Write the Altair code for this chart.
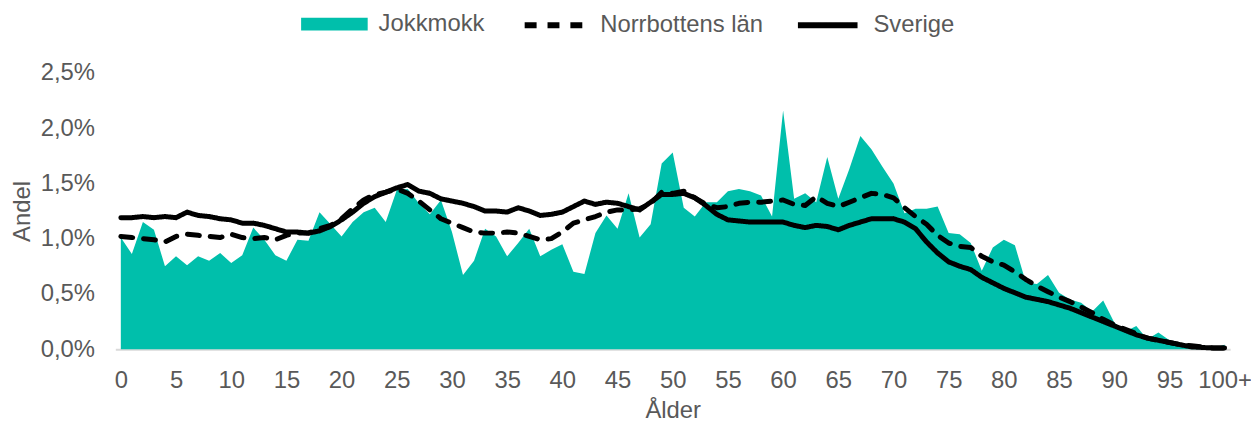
import altair as alt
import pandas as pd

ages = list(range(101))
x_tick_values = list(range(0, 101, 5))
y_tick_values = [0.0, 0.005, 0.01, 0.015, 0.02, 0.025]

# Andel (%) per ålder 0..100+
jokkmokk = [1.01, 0.86, 1.15, 1.08, 0.75, 0.84, 0.76, 0.84, 0.80, 0.87,
            0.78, 0.85, 1.10, 0.99, 0.85, 0.80, 0.99, 0.98, 1.24, 1.13,
            1.02, 1.15, 1.24, 1.28, 1.15, 1.44, 1.45, 1.32, 1.22, 1.35,
            1.06, 0.67, 0.80, 1.09, 1.02, 0.84, 0.96, 1.09, 0.84, 0.90,
            0.95, 0.70, 0.68, 1.05, 1.21, 1.09, 1.41, 1.01, 1.13, 1.68,
            1.78, 1.28, 1.20, 1.33, 1.33, 1.43, 1.45, 1.43, 1.39, 1.20,
            2.16, 1.36, 1.41, 1.33, 1.74, 1.36, 1.63, 1.93, 1.81, 1.65,
            1.50, 1.23, 1.27, 1.27, 1.29, 1.05, 1.04, 0.96, 0.71, 0.92,
            0.99, 0.94, 0.60, 0.59, 0.67, 0.51, 0.45, 0.42, 0.34, 0.44,
            0.24, 0.16, 0.21, 0.09, 0.15, 0.08, 0.04, 0.02, 0.01, 0.01,
            0.04]

norrbotten = [1.02, 1.01, 1.00, 0.99, 0.97, 1.02, 1.04, 1.03, 1.02, 1.01,
              1.04, 1.01, 1.00, 1.01, 0.99, 1.03, 1.05, 1.05, 1.09, 1.12,
              1.18, 1.27, 1.35, 1.40, 1.42, 1.45, 1.41, 1.34, 1.26, 1.18,
              1.14, 1.10, 1.06, 1.05, 1.05, 1.06, 1.05, 1.02, 0.99, 1.00,
              1.06, 1.14, 1.17, 1.20, 1.24, 1.26, 1.26, 1.27, 1.32, 1.42,
              1.41, 1.43, 1.37, 1.31, 1.28, 1.29, 1.32, 1.33, 1.33, 1.34,
              1.35, 1.31, 1.30, 1.38, 1.32, 1.29, 1.33, 1.37, 1.41, 1.40,
              1.37, 1.28, 1.20, 1.13, 1.03, 0.96, 0.93, 0.92, 0.84, 0.79,
              0.76, 0.70, 0.63, 0.57, 0.52, 0.47, 0.43, 0.38, 0.33, 0.27,
              0.22, 0.18, 0.14, 0.10, 0.08, 0.06, 0.04, 0.03, 0.02, 0.01,
              0.01]

sverige = [1.19, 1.19, 1.20, 1.19, 1.20, 1.19, 1.24, 1.21, 1.20, 1.18,
           1.17, 1.14, 1.14, 1.12, 1.09, 1.06, 1.06, 1.05, 1.07, 1.11,
           1.17, 1.24, 1.32, 1.38, 1.42, 1.46, 1.49, 1.43, 1.41, 1.36,
           1.34, 1.32, 1.29, 1.25, 1.25, 1.24, 1.28, 1.25, 1.21, 1.22,
           1.24, 1.29, 1.34, 1.31, 1.33, 1.32, 1.29, 1.26, 1.33, 1.40,
           1.40, 1.41, 1.37, 1.30, 1.22, 1.17, 1.16, 1.15, 1.15, 1.15,
           1.15, 1.12, 1.10, 1.12, 1.11, 1.08, 1.12, 1.15, 1.18, 1.18,
           1.18, 1.15, 1.09, 0.97, 0.87, 0.79, 0.75, 0.72, 0.65, 0.60,
           0.55, 0.51, 0.47, 0.45, 0.43, 0.40, 0.37, 0.33, 0.29, 0.25,
           0.21, 0.17, 0.13, 0.10, 0.08, 0.06, 0.04, 0.02, 0.015, 0.01,
           0.01]

area_df = pd.DataFrame({"alder": ages, "andel": [v / 100 for v in jokkmokk],
                        "omrade": "Jokkmokk"})
line_df = pd.concat([
    pd.DataFrame({"alder": ages, "andel": [v / 100 for v in norrbotten],
                  "serie": "Norrbottens län"}),
    pd.DataFrame({"alder": ages, "andel": [v / 100 for v in sverige],
                  "serie": "Sverige"}),
])

TEAL = "#00BFAB"
GREY = "#595959"
FONT = "Liberation Sans"

x_enc = alt.X("alder:Q",
              scale=alt.Scale(domain=[-0.5, 100.5], nice=False, zero=False),
              axis=alt.Axis(title="Ålder", values=x_tick_values,
                            labelExpr="datum.value == 100 ? '100+' : datum.label",
                            grid=False, ticks=False, tickSize=0,
                            domainColor="#D9D9D9", domainWidth=2,
                            labelPadding=20, titlePadding=6,
                            labelFlush=False, labelOverlap=False))
y_enc = alt.Y("andel:Q",
              scale=alt.Scale(domain=[0, 0.025], nice=False),
              axis=alt.Axis(title="Andel", values=y_tick_values,
                            labelExpr="replace(format(datum.value, '.1%'), '.', ',')",
                            grid=False, ticks=False, tickSize=0, domain=False,
                            labelPadding=21, titlePadding=6))

area = alt.Chart(area_df).mark_area(interpolate="linear", opacity=1).encode(
    x=x_enc, y=y_enc,
    color=alt.Color("omrade:N",
                    scale=alt.Scale(domain=["Jokkmokk"], range=[TEAL]),
                    legend=alt.Legend(title=None, orient="none",
                                      legendX=208.5, legendY=-61,
                                      symbolType="M-3.35,-0.64H3.35V0.64H-3.35Z",
                                      symbolSize=400, symbolOpacity=1,
                                      labelOffset=32.5, labelLimit=0,
                                      padding=0)),
)

lines = alt.Chart(line_df).mark_line(
    strokeWidth=5, strokeCap="round", strokeJoin="round", color="black"
).encode(
    x=x_enc, y=y_enc,
    detail="serie:N",
    order="alder:Q",
    strokeDash=alt.StrokeDash("serie:N",
                              scale=alt.Scale(domain=["Norrbottens län", "Sverige"],
                                              range=[[12, 11], [1, 0]]),
                              legend=alt.Legend(title=None, orient="none",
                                                direction="horizontal",
                                                legendX=429, legendY=-61,
                                                symbolType="M-3,0H3",
                                                symbolSize=400,
                                                symbolStrokeWidth=6,
                                                symbolStrokeColor="black",
                                                symbolFillColor="transparent",
                                                labelOffset=33,
                                                labelLimit=0,
                                                columnPadding=22,
                                                padding=0)),
)

chart = alt.layer(area, lines).properties(
    width=1122, height=278,
    autosize=alt.AutoSizeParams(type="none"),
    padding={"left": 108, "top": 64, "right": 21, "bottom": 72},
).configure(font=FONT).configure_view(stroke=None).configure_axis(
    labelFont=FONT, titleFont=FONT, labelFontSize=24, titleFontSize=24,
    labelColor=GREY, titleColor=GREY, titleFontWeight="normal",
).configure_legend(
    labelFont=FONT, labelFontSize=24, labelColor=GREY,
)

chart.save("out.html", embed_options={"renderer": "svg", "actions": False})
